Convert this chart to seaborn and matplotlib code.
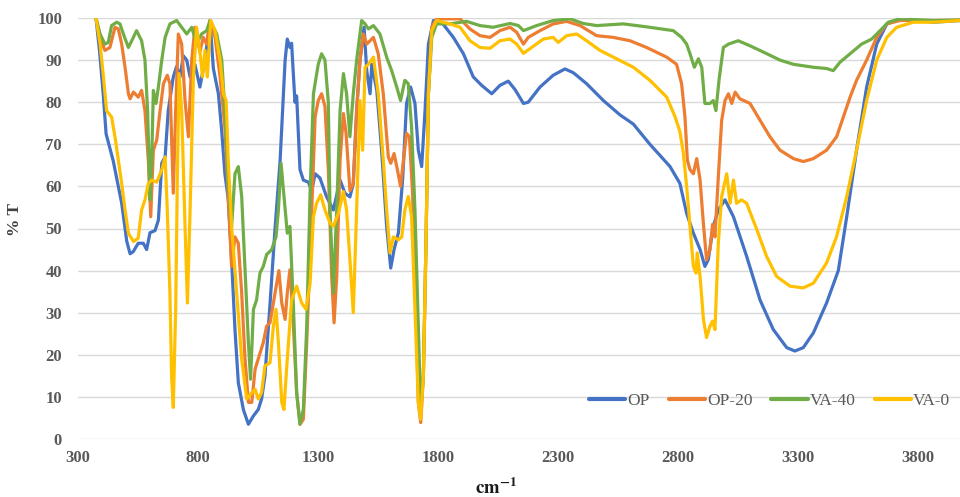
import pandas as pd
import matplotlib.pyplot as plt
import seaborn as sns

# FTIR transmittance spectra
series_names = ["OP", "OP-20", "VA-40", "VA-0"]
colors = ["#4472C4", "#ED7D31", "#70AD47", "#FFC000"]

op_wn = [375, 390, 405, 417, 447, 482, 503, 517, 530, 551, 572, 586, 600, 621, 635, 649, 663, 676, 697, 711,
         725, 739, 753, 767, 787, 808, 829, 850, 864, 885, 899, 912, 926, 940, 954, 968, 989, 1010, 1031, 1051,
         1065, 1079, 1100, 1121, 1142, 1163, 1172, 1183, 1190, 1204, 1211, 1225, 1239, 1260, 1274, 1288, 1308,
         1336, 1364, 1392, 1412, 1433, 1447, 1461, 1475, 1492, 1503, 1517, 1524, 1545, 1565, 1586, 1603, 1617,
         1635, 1653, 1669, 1686, 1704, 1718, 1732, 1746, 1760, 1781, 1815, 1864, 1906, 1947, 1982, 2024, 2058,
         2093, 2121, 2156, 2176, 2225, 2280, 2329, 2364, 2419, 2489, 2558, 2614, 2683, 2767, 2808, 2836, 2864,
         2892, 2912, 2926, 2947, 2968, 2996, 3031, 3086, 3142, 3197, 3253, 3287, 3322, 3364, 3419, 3468, 3503,
         3544, 3586, 3628, 3670, 3711, 3781, 3864, 3975]
op_t = [100, 92, 82, 72.5, 66, 56, 47, 44, 44.5, 46.5, 46.5, 45, 49, 49.5, 52, 65.5, 67, 78, 86, 88.5,
        86, 91, 90, 86, 89, 83.6, 90, 99.4, 88, 82, 73, 63, 57, 42.6, 26, 13.4, 7, 3.5, 5.5, 7,
        9.5, 15, 32, 50, 66, 90, 95, 93, 94, 80, 81.5, 64, 61.5, 61, 59, 63, 62,
        57.5, 54.4, 61.5, 58.4, 57.5, 60.7, 78, 90, 97.8, 87.5, 82, 89, 82.8, 68.6, 50.5, 40.6, 45,
        49, 62, 79.7, 83.6, 79.7, 68.6, 64.7, 78, 93.8, 99.4, 99, 95.4, 91.5, 86, 84, 82, 84,
        85, 83, 79.7, 80, 83.6, 86.4, 87.9, 87, 84.4, 80.4, 77, 74.8, 70, 64.7, 60.7, 53.6, 48.9,
        45, 41, 42.6, 50.5, 54.4, 56.8, 52.8, 43.4, 33, 26, 21.7, 20.9, 21.7, 25.2, 32.3, 40, 52.8,
        68.6, 83.6, 93.8, 98.6, 99.5, 99.5, 99, 99.4]

op20_wn = [375, 392, 412, 433, 454, 468, 482, 496, 510, 517, 531, 551, 565, 579, 593, 603, 614, 628, 642, 656,
           672, 683, 697, 707, 718, 732, 746, 760, 774, 787, 808, 822, 836, 850, 871, 892, 912, 926, 940, 954,
           968, 982, 996, 1010, 1024, 1038, 1051, 1072, 1086, 1100, 1121, 1137, 1149, 1163, 1172, 1183, 1194,
           1211, 1225, 1239, 1253, 1274, 1288, 1301, 1315, 1329, 1343, 1357, 1367, 1378, 1392, 1406, 1417, 1433,
           1447, 1461, 1475, 1489, 1503, 1517, 1531, 1551, 1572, 1593, 1603, 1617, 1631, 1644, 1656, 1669, 1681,
           1694, 1708, 1718, 1728, 1739, 1750, 1760, 1774, 1794, 1850, 1892, 1933, 1975, 2017, 2058, 2100, 2128,
           2156, 2176, 2225, 2280, 2336, 2392, 2461, 2530, 2600, 2669, 2753, 2794, 2815, 2829, 2839, 2850, 2864,
           2878, 2892, 2906, 2919, 2933, 2944, 2954, 2968, 2982, 2996, 3010, 3024, 3038, 3058, 3100, 3142, 3183,
           3225, 3281, 3322, 3364, 3419, 3461, 3489, 3517, 3544, 3586, 3628, 3670, 3725, 3864, 3975]
op20_t = [100, 95.4, 92.3, 93, 97.8, 97.4, 93.8, 88.3, 82, 80.8, 82.4, 81.2, 82.8, 78, 66.2, 52.8, 68.6, 71, 78, 84.4,
          86.4, 84.4, 58.4, 78, 96.2, 93.8, 80.4, 71.8, 90, 97.8, 92, 95.4, 93.8, 99.4, 95.4, 86, 74, 57.6, 41, 48,
          46.5, 34.7, 19, 8.7, 8.7, 16.6, 19, 22.9, 26.8, 27.6, 34.7, 40, 32.3, 28.4, 34.7, 40.2, 30.8,
          11, 3.5, 4.7, 22.9, 54.4, 76.5, 80.4, 82, 79, 64, 38.6, 27.6, 38.6, 66.2, 77.3, 72.6, 59,
          60.7, 78, 90, 96.2, 93.8, 94.6, 95.4, 91.5, 82, 67, 65.5, 67.8, 63.9, 60, 66.2, 72.6, 71.8,
          58.4, 30.8, 8.7, 3.9, 15, 46.5, 82, 97.8, 99.8, 99.8, 99.8, 97.4, 95.8, 95.4, 97, 97.8, 96.6,
          93.8, 95.4, 97, 98.6, 99.2, 98.2, 95.8, 95.4, 94.6, 93, 90.7, 89, 84.4, 76.5, 66.2, 64, 63,
          66.6, 61.5, 51, 42.6, 45, 51, 48, 62.3, 75.7, 80.4, 82, 79.7, 82.4, 80.8, 79.7, 75.7, 71.8,
          68.6, 66.6, 65.9, 66.6, 68.6, 71.8, 76.5, 81.2, 85.2, 90, 95.4, 98.6, 99.4, 99.4, 99.5]

va40_wn = [375, 392, 412, 426, 440, 461, 475, 489, 510, 524, 544, 565, 579, 590, 600, 607, 614, 625, 635, 649,
           663, 683, 711, 732, 753, 774, 794, 815, 836, 850, 878, 899, 912, 926, 940, 954, 968, 982, 996, 1010,
           1019, 1031, 1044, 1058, 1072, 1086, 1107, 1125, 1135, 1146, 1156, 1172, 1183, 1197, 1211, 1225, 1239,
           1253, 1267, 1281, 1301, 1315, 1329, 1343, 1350, 1364, 1378, 1392, 1406, 1419, 1433, 1447, 1461, 1482,
           1496, 1510, 1531, 1558, 1586, 1607, 1628, 1644, 1662, 1676, 1690, 1704, 1718, 1728, 1739, 1750, 1760,
           1774, 1794, 1850, 1919, 1975, 2030, 2100, 2135, 2156, 2211, 2280, 2350, 2405, 2461, 2572, 2669, 2780,
           2815, 2836, 2850, 2868, 2885, 2899, 2912, 2933, 2947, 2958, 2972, 2989, 3010, 3051, 3100, 3156, 3225,
           3281, 3364, 3419, 3447, 3475, 3517, 3565, 3607, 3642, 3676, 3725, 3864, 3975]
va40_t = [100, 96.2, 93.8, 94.2, 98.2, 99, 98.6, 96.2, 93, 94.6, 97, 94.6, 90, 78, 56.8, 66.2, 82.8, 79.7, 83.6, 90,
          95.4, 98.6, 99.4, 97.8, 96.2, 97.8, 93.8, 96.2, 97, 99.4, 96.2, 90, 78, 60.7, 50.5, 63, 64.7, 57.6, 40.2, 22.9,
          14.2, 30.8, 33, 39.4, 41, 43.8, 45, 48, 54.4, 65.5, 59, 48.9, 50.5, 32.3, 11, 3.5, 7,
          26.8, 58.4, 82, 89, 91.5, 90, 80, 54.4, 34.7, 54.4, 78, 86.8, 82, 71.8, 82, 90, 99.4,
          98.6, 97.4, 98.2, 96.2, 90.7, 87.5, 83.6, 80.4, 85.2, 84.4, 74, 54.4, 26.8, 7, 15, 46.5, 82,
          95.4, 98.6, 98.6, 99.2, 98.2, 97.8, 98.7, 98.2, 97, 98.2, 99.4, 99.8, 98.7, 98.2, 98.6, 97.9, 97,
          95.4, 93.8, 91.5, 88.3, 90.3, 88.3, 79.7, 79.7, 80.4, 78, 85.8, 93, 93.8, 94.6, 93.4, 91.9, 90,
          89, 88.3, 88, 87.5, 89.5, 91.5, 93.8, 95, 97, 99, 99.8, 99.4, 99.5]

va0_wn = [375, 392, 406, 419, 440, 454, 468, 482, 496, 510, 531, 551, 565, 579, 593, 607, 628, 649, 663, 672,
          683, 690, 697, 707, 714, 721, 732, 746, 756, 767, 781, 794, 808, 819, 829, 839, 853, 871, 892, 906,
          917, 926, 940, 961, 982, 1003, 1024, 1038, 1051, 1065, 1079, 1100, 1114, 1125, 1135, 1149, 1158, 1172,
          1190, 1211, 1232, 1250, 1267, 1281, 1294, 1311, 1329, 1350, 1364, 1385, 1406, 1419, 1433, 1447, 1461,
          1475, 1486, 1496, 1510, 1531, 1551, 1572, 1586, 1600, 1614, 1635, 1649, 1662, 1676, 1690, 1704, 1718,
          1728, 1739, 1750, 1760, 1774, 1794, 1850, 1892, 1933, 1975, 2017, 2058, 2100, 2128, 2156, 2190, 2239,
          2280, 2301, 2336, 2378, 2419, 2475, 2544, 2614, 2683, 2753, 2788, 2808, 2822, 2836, 2850, 2864, 2875,
          2880, 2892, 2906, 2919, 2933, 2944, 2954, 2968, 2982, 3003, 3017, 3031, 3044, 3065, 3086, 3128, 3169,
          3211, 3267, 3322, 3364, 3419, 3461, 3503, 3544, 3586, 3628, 3670, 3711, 3781, 3864, 3975]
va0_t = [100, 93.8, 86, 78, 76.5, 71.8, 66.2, 60.7, 54.4, 48.9, 46.9, 47.7, 54.4, 56.8, 60.7, 61.5, 61, 63.9, 67, 54.4,
         34.7, 15, 7.5, 30.8, 62.3, 86.8, 78, 50.5, 32.3, 54.4, 86, 97.8, 92, 86, 92.3, 86, 99.4, 97, 90, 82,
         80.4, 66.2, 50.5, 34.7, 19, 9.5, 11, 11.8, 9.5, 11, 17.4, 18.1, 26.8, 30.8, 22.9, 8.7, 7, 19,
         33, 36.3, 32.3, 30.8, 37, 52.8, 56, 58, 54.4, 51.3, 50.5, 53.6, 58.8, 54.4, 42.6, 30, 54.4,
         80.4, 68.6, 88.3, 89, 90.7, 82, 66.2, 54.4, 44.2, 48, 47.3, 48, 54.4, 57.6, 52.8, 30.8, 8.7,
         4.7, 15, 46.5, 82, 97, 99.4, 98.6, 97.8, 94.6, 93, 92.8, 94.6, 95, 93.8, 91.6, 93, 95,
         95.4, 94.2, 95.8, 96.2, 94.6, 92.3, 90.3, 88.3, 85.2, 81.2, 76.5, 73, 68, 60, 50.5, 41, 39.4,
         44.2, 38.6, 28.4, 24.1, 26.8, 28, 26, 46.5, 57.6, 63, 56, 61.5, 56, 56.8, 56, 49.8, 43.4,
         38.6, 36.3, 35.9, 37, 41.8, 48.1, 57.6, 68.6, 80.4, 90, 95.4, 97.8, 99, 99, 99.4]

x_ticks = [300, 800, 1300, 1800, 2300, 2800, 3300, 3800]
y_ticks = list(range(0, 101, 10))

frames = []
for name, wn, t in zip(series_names, [op_wn, op20_wn, va40_wn, va0_wn], [op_t, op20_t, va40_t, va0_t]):
    frames.append(pd.DataFrame({"wavenumber": wn, "T": t, "sample": name}))
data = pd.concat(frames, ignore_index=True)

sns.set_style("white")
plt.rcParams["font.family"] = ["Liberation Serif", "DejaVu Serif"]
plt.rcParams["mathtext.fontset"] = "stix"

fig = plt.figure(figsize=(9.6, 4.97), dpi=100)
ax = fig.add_axes([78 / 960, 1 - 439 / 497, 1 - 78 / 960, (439 - 18) / 497])

sns.lineplot(data=data, x="wavenumber", y="T", hue="sample", hue_order=series_names,
             palette=colors, linewidth=2.3, estimator=None, sort=False, ax=ax, legend=False)

ax.set_xlim(300, 300 + (960 - 78) / 0.24)
ax.set_ylim(0, 100)
ax.set_xticks(x_ticks)
ax.set_yticks(y_ticks)
ax.yaxis.grid(True, color="#D9D9D9", linewidth=1)
ax.set_axisbelow(True)
for s in ax.spines.values():
    s.set_visible(False)
ax.tick_params(axis="both", length=0, labelsize=12, labelcolor="#595959")
ax.tick_params(axis="x", pad=8)
ax.tick_params(axis="y", pad=11.5)
for lab in ax.get_xticklabels() + ax.get_yticklabels():
    lab.set_fontweight("bold")

ax.set_xlabel("")
ax.set_ylabel("")
fig.text(15 / 960, 1 - 219 / 497, "% T", rotation=90, ha="center", va="center",
         fontsize=12.5, fontweight="bold", color="#404040")
fig.text(496 / 960, 1 - 488 / 497, r"$\mathbf{cm^{-1}}$", ha="center", va="center",
         fontsize=13.5, color="#1a1a1a")

handles = [plt.Line2D([], [], color=c, linewidth=3) for c in colors]
fig.legend(handles, series_names, loc="center left", bbox_to_anchor=(589 / 960, 1 - 401 / 497),
           ncol=4, frameon=False, fontsize=12.5, handlelength=2.1, handletextpad=0.1,
           columnspacing=1.1, borderpad=0, borderaxespad=0, labelcolor="#595959")

plt.savefig("out.png", dpi=100)
